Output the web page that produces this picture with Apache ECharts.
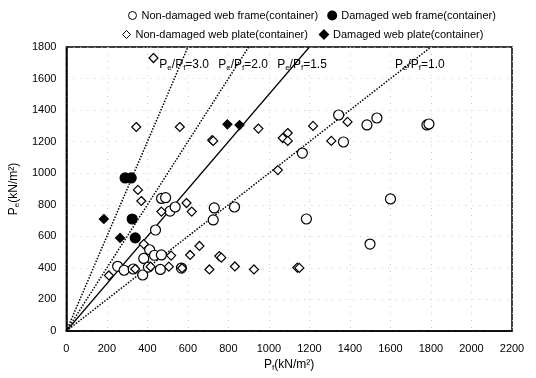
<!DOCTYPE html>
<html>
<head>
<meta charset="utf-8">
<script src="https://cdn.jsdelivr.net/npm/echarts@6/dist/echarts.min.js"></script>
<style>
  html, body { margin: 0; padding: 0; background: #fff; }
  #main { width: 536px; height: 378px; }
</style>
</head>
<body>
<div id="main"></div>
<script>
// 数据 (Pf, Pe)
var frameOk = [
  [470, 840], [490, 845], [512, 760], [537, 786], [730, 780], [830, 786], [725, 704],
  [440, 640], [411, 515], [382, 460], [435, 480], [469, 482], [253, 410], [285, 385],
  [330, 393], [377, 355], [405, 405], [464, 390], [568, 399], [1185, 710], [1344, 1369],
  [1484, 1306], [1533, 1350], [1780, 1306], [1790, 1312], [1368, 1198], [1165, 1128],
  [1600, 837], [1499, 551]
];
var frameDamaged = [[290, 970], [320, 970], [325, 710], [340, 590]];
var plateOk = [
  [430, 1730], [345, 1293], [560, 1293], [720, 1210], [725, 1205], [948, 1283],
  [1068, 1223], [1093, 1255], [1093, 1205], [1218, 1300], [1308, 1205], [1388, 1325],
  [1044, 1020], [353, 894], [370, 824], [469, 757], [593, 811], [619, 757], [382, 551],
  [210, 352], [517, 478], [611, 482], [657, 539], [755, 475], [765, 465], [416, 408],
  [506, 408], [571, 398], [706, 390], [832, 409], [926, 390], [1140, 402], [1150, 400],
  [340, 393]
];
var plateDamaged = [[185, 710], [265, 590], [795, 1310], [855, 1305]];
// Pe/Pf 比例线
var ratios = [3.0, 2.0, 1.5, 1.0];
var ratioText = ['3.0', '2.0', '1.5', '1.0'];
var xMax = 2200, yMax = 1800;

var names = [
  'Non-damaged web frame(container)',
  'Damaged web frame(container)',
  'Non-damaged web plate(container)',
  'Damaged web plate(container)'
];

var font = 'Liberation Sans, Arial, sans-serif';
var rich = {
  p: { fontSize: 12, fontFamily: font, color: '#000' },
  s: { fontSize: 8, fontFamily: font, color: '#000', padding: [6, 0, 0, 0] }
};

var series = [];
ratios.forEach(function (r, i) {
  series.push({
    type: 'line',
    data: [[0, 0], [yMax / r, yMax]],
    symbol: 'none',
    silent: true,
    lineStyle: { color: '#000', width: r === 1.5 ? 1.2 : 1.5, type: r === 1.5 ? 'solid' : 'dotted' },
    markPoint: {
      symbol: 'circle', symbolSize: 0,
      data: [{ coord: [1745 / r, 1690] }],
      label: {
        show: true,
        formatter: '{p|P}{s|e}{p|/P}{s|f}{p|=' + ratioText[i] + '}',
        rich: rich
      }
    },
    z: 1
  });
});

function scat(name, data, symbol, filled, size) {
  return {
    name: name,
    type: 'scatter',
    data: data,
    symbol: symbol,
    symbolSize: size,
    itemStyle: {
      color: filled ? '#000' : '#fff',
      borderColor: '#000',
      borderWidth: 1.2,
      opacity: 1
    },
    z: 3
  };
}
series.push(scat(names[0], frameOk, 'circle', false, 10));
series.push(scat(names[1], frameDamaged, 'circle', true, 10));
series.push(scat(names[2], plateOk, 'diamond', false, 9));
series.push(scat(names[3], plateDamaged, 'diamond', true, 9));

var myChart = echarts.init(document.getElementById('main'));
var option = {
  animation: false,
  backgroundColor: '#fff',
  textStyle: { fontFamily: font },
  legend: [
    {
      data: [
        { name: names[0], icon: 'circle', itemStyle: { color: '#fff', borderColor: '#000', borderWidth: 1 } },
        { name: names[1], icon: 'circle', itemStyle: { color: '#000' } }
      ],
      left: 123, top: 5, itemWidth: 8, itemHeight: 8, itemGap: 9,
      textStyle: { fontSize: 11, color: '#000', fontFamily: font }
    },
    {
      data: [
        { name: names[2], icon: 'diamond', itemStyle: { color: '#fff', borderColor: '#000', borderWidth: 1 } },
        { name: names[3], icon: 'diamond', itemStyle: { color: '#000' } }
      ],
      left: 117, top: 24, itemWidth: 8, itemHeight: 8, itemGap: 11,
      textStyle: { fontSize: 11, color: '#000', fontFamily: font }
    }
  ],
  grid: {
    left: 57, right: 24, top: 47, bottom: 47,
    show: true, borderColor: '#000', borderWidth: 1.5
  },
  xAxis: {
    type: 'value', min: 0, max: xMax, interval: 200,
    name: '{p|P}{s|f}{p|(kN/m²)}',
    nameLocation: 'middle', nameGap: 26,
    nameTextStyle: { rich: rich },
    axisLine: { show: true, lineStyle: { color: '#000', width: 1.5 } },
    axisTick: { show: false },
    axisLabel: { color: '#000', fontSize: 11, margin: 12, fontFamily: font, formatter: function (v) { return String(v); } },
    splitLine: { show: true, lineStyle: { color: '#c8c8c8', type: [1, 6], width: 1 } }
  },
  yAxis: {
    type: 'value', min: 0, max: yMax, interval: 200,
    name: '{p|P}{s|e}{p|(kN/m²)}',
    nameLocation: 'middle', nameGap: 38, nameRotate: 90,
    nameTextStyle: { rich: rich },
    axisLine: { show: true, lineStyle: { color: '#000', width: 1.5 } },
    axisTick: { show: false },
    axisLabel: { color: '#000', fontSize: 11, margin: 10, fontFamily: font, formatter: function (v) { return String(v); } },
    splitLine: { show: true, lineStyle: { color: '#c8c8c8', type: [1, 6], width: 1 } }
  },
  series: series
};
myChart.setOption(option);
</script>
</body>
</html>
